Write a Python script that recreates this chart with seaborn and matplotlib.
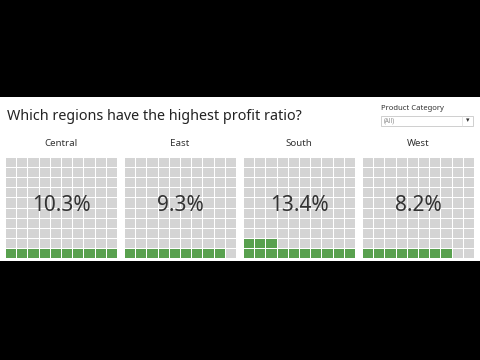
import numpy as np
import pandas as pd
import matplotlib
matplotlib.use("Agg")
import matplotlib.pyplot as plt
from matplotlib.colors import ListedColormap
from matplotlib.patches import Rectangle
import seaborn as sns

regions = ["Central", "East", "South", "West"]
profit_ratio = [10.3, 9.3, 13.4, 8.2]
title = "Which regions have the highest profit ratio?"
filter_label = "Product Category"
filter_value = "(All)"

sns.set_theme(style="white")
plt.rcParams['font.family'] = ['Noto Sans', 'DejaVu Sans']

W, H = 480, 360
fig = plt.figure(figsize=(4.8, 3.6), dpi=100, facecolor="black")

def fx(x):
    return x / W

def fy(y):
    return 1 - y / H

# white dashboard band
bg = fig.add_axes([0, fy(261), 1, (261 - 97) / H])
bg.set_facecolor("white")
bg.set_xlim(0, W); bg.set_ylim(261, 97)
bg.set_xticks([]); bg.set_yticks([])
for s in bg.spines.values():
    s.set_visible(False)

fig.text(fx(7), fy(117), title, fontsize=10.3, color="#222222", va="center", ha="left")

# filter widget
fig.text(fx(381), fy(109), filter_label, fontsize=5.5, color="#333333", va="center", ha="left")
bg.add_patch(Rectangle((381, 116), 92, 10, facecolor="white", edgecolor="#c8c8c8", lw=0.6))
bg.plot([462, 462], [116, 126], color="#dddddd", lw=0.5)
fig.text(fx(384), fy(121), filter_value, fontsize=4.5, color="#888888", va="center", ha="left")
fig.text(fx(467.5), fy(121), "▾", fontsize=5, color="#333333", va="center", ha="center")

cmap = ListedColormap(["#d4d4d4", "#59a14f"])
lefts = [5, 124, 243, 362]
top, bottom = 157, 258
width = 112

for left, region, val in zip(lefts, regions, profit_ratio):
    n = int(round(val))
    grid = np.zeros((10, 10))
    for k in range(n):
        grid[9 - k // 10, k % 10] = 1
    ax = fig.add_axes([fx(left), fy(bottom), fx(width), (bottom - top) / H])
    sns.heatmap(pd.DataFrame(grid), ax=ax, cmap=cmap, vmin=0, vmax=1, cbar=False,
                linewidths=0.5, linecolor="white", xticklabels=False, yticklabels=False)
    ax.text(5, 4.8, f"{val:.1f}%", fontsize=15, color="#333333", ha="center", va="center")
    fig.text(fx(left + width / 2), fy(144), region, fontsize=7, color="#333333", ha="center", va="center")

fig.savefig("out.png", dpi=100, facecolor="black")
